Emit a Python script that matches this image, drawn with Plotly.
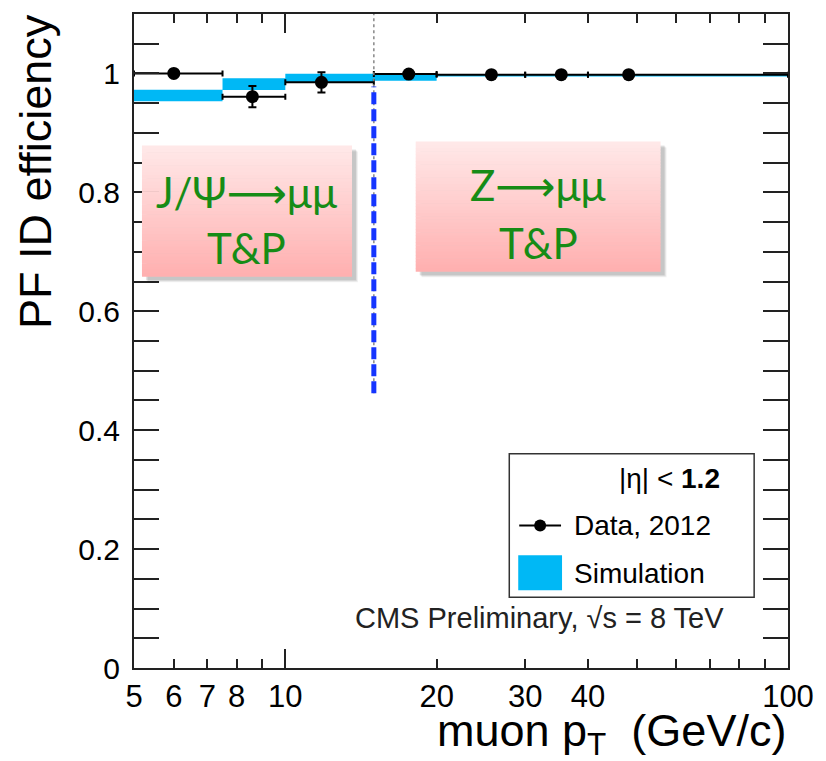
import plotly.graph_objects as go

# ---------------- data ----------------
bin_lo = [5, 7.5, 10, 15, 20, 30, 40]
bin_hi = [7.5, 10, 15, 20, 30, 40, 100]
data_pt = [6.0, 8.6, 11.8, 17.6, 25.7, 35.4, 48.2]
data_eff = [1.0, 0.961, 0.985, 0.999, 0.998, 0.998, 0.998]
data_err = [0.003, 0.018, 0.017, 0.003, 0.002, 0.002, 0.002]
sim_eff = [0.963, 0.982, 0.9925, 0.9937, 0.9965, 0.9965, 0.9963]
sim_err = [0.0096, 0.0098, 0.007, 0.006, 0.0018, 0.0017, 0.0015]

x_ticks = [5, 6, 7, 8, 10, 20, 30, 40, 100]
x_ticktext = ["5", "6", "7", "8", "10", "20", "30", "40", "100"]
x_minor = [9, 50, 60, 70, 80, 90]
x_long = [10, 100]
y_ticks = [0, 0.2, 0.4, 0.6, 0.8, 1.0]
y_ticktext = ["0", "0.2", "0.4", "0.6", "0.8", "1"]
split_pt = 15
split_dash_y = [0.462, 0.978]
split_dot_y = [0.462, 1.1]

# ---------------- layout geometry ----------------
W, H = 826, 761
L, R, T, B = 134, 791, 12, 668


def px(xp):
    return (xp - L) / (R - L)


def py(yp):
    return (B - yp) / (B - T)


SANS = "Liberation Sans, Arial, Helvetica, sans-serif"
CYAN = "#00b8f5"

fig = go.Figure()

# simulation boxes
sx, sy = [], []
for lo, hi, c, e in zip(bin_lo, bin_hi, sim_eff, sim_err):
    sx += [lo, hi, hi, lo, lo, None]
    sy += [c - e, c - e, c + e, c + e, c - e, None]
fig.add_trace(go.Scatter(x=sx, y=sy, mode="lines", fill="toself",
                         fillcolor=CYAN, line=dict(width=0, color=CYAN),
                         showlegend=False, hoverinfo="skip"))

# data points
fig.add_trace(go.Scatter(
    x=data_pt, y=data_eff, mode="markers",
    marker=dict(color="black", size=13),
    error_x=dict(type="data", symmetric=False,
                 array=[h - x for h, x in zip(bin_hi, data_pt)],
                 arrayminus=[x - l for l, x in zip(bin_lo, data_pt)],
                 color="black", thickness=2, width=3),
    error_y=dict(type="data", array=data_err, color="black",
                 thickness=2, width=4),
    showlegend=False))

shapes = []
# vertical separators
shapes.append(dict(type="line", xref="x", yref="y", x0=split_pt, x1=split_pt,
                   y0=split_dot_y[0], y1=split_dot_y[1],
                   line=dict(color="#888888", width=1.5, dash="dot")))
shapes.append(dict(type="line", xref="x", yref="y", x0=split_pt, x1=split_pt,
                   y0=split_dash_y[0], y1=split_dash_y[1],
                   line=dict(color="#1535ff", width=5, dash="12px,5px")))


# gradient boxes with shadows
def grad_box(x0p, x1p, y0p, y1p):
    for k, a in [(6, 0.06), (5, 0.08), (4, 0.10)]:
        shapes.append(dict(type="rect", xref="paper", yref="paper",
                           x0=px(x0p + k), x1=px(x1p + k),
                           y0=py(y1p + k), y1=py(y0p + k),
                           line=dict(width=0), fillcolor=f"rgba(0,0,0,{a})"))
    n = 40
    top = (255, 232, 232)
    bot = (255, 176, 176)
    for i in range(n):
        t = i / (n - 1)
        col = tuple(int(round(top[j] + (bot[j] - top[j]) * t)) for j in range(3))
        ya = y0p + (y1p - y0p) * i / n
        yb = y0p + (y1p - y0p) * (i + 1) / n
        shapes.append(dict(type="rect", xref="paper", yref="paper",
                           x0=px(x0p), x1=px(x1p), y0=py(yb + 0.5), y1=py(ya),
                           line=dict(width=0), fillcolor=f"rgb{col}"))


grad_box(142, 353, 144, 275)
grad_box(417, 663, 140, 270)

# legend box
shapes.append(dict(type="rect", xref="paper", yref="paper",
                   x0=px(511), x1=px(757), y0=py(597), y1=py(453),
                   line=dict(color="#333333", width=1.5), fillcolor="white"))
shapes.append(dict(type="line", xref="paper", yref="paper",
                   x0=px(521), x1=px(563), y0=py(525), y1=py(525),
                   line=dict(color="black", width=2)))
shapes.append(dict(type="circle", xref="paper", yref="paper",
                   xsizemode="pixel", ysizemode="pixel",
                   xanchor=px(542), yanchor=py(525),
                   x0=-6, x1=6, y0=-6, y1=6,
                   line=dict(color="black", width=0), fillcolor="black"))
shapes.append(dict(type="rect", xref="paper", yref="paper",
                   x0=px(520), x1=px(564), y0=py(590), y1=py(555),
                   line=dict(width=0), fillcolor=CYAN))

GREEN = "#168c16"
BOXFONT = "Lato, Noto Sans, DejaVu Sans, sans-serif"


def ann(text, xp, yp, size, family=SANS, color="black", xanchor="center",
        yanchor="middle", **kw):
    return dict(text=text, x=px(xp), y=py(yp), xref="paper", yref="paper",
                xanchor=xanchor, yanchor=yanchor, showarrow=False,
                font=dict(family=family, size=size, color=color), **kw)


annotations = [
    ann("J/Ψ⟶μμ", 247, 191, 42, BOXFONT, GREEN),
    ann("T&amp;P", 247, 247, 42, BOXFONT, GREEN),
    ann("Z⟶μμ", 540, 184, 42, BOXFONT, GREEN),
    ann("T&amp;P", 540, 242, 42, BOXFONT, GREEN),
    ann("|η| &lt; <b>1.2</b>", 672, 478, 28),
    ann("Data, 2012", 574, 525, 28, xanchor="left"),
    ann("Simulation", 574, 573, 28, xanchor="left"),
    ann("CMS Preliminary, √s = 8 TeV", 354, 618, 29, color="#222222",
        xanchor="left"),
    ann("PF ID efficiency", 35, 10, 45, yanchor="top", textangle=-90),
    ann("muon p<sub>T</sub>\u00a0\u00a0(GeV/c)", 791, 734, 45,
        xanchor="right"),
]

AX = "#222222"
fig.update_layout(
    width=W, height=H,
    margin=dict(l=L, r=W - R, t=T, b=H - B, pad=0),
    paper_bgcolor="white", plot_bgcolor="white",
    showlegend=False,
    shapes=shapes, annotations=annotations,
    xaxis=dict(type="log", range=[0.69897, 2.0], tickvals=x_ticks,
               ticktext=x_ticktext, ticks="inside", ticklen=9, tickwidth=1.5,
               tickcolor=AX, showline=True, linecolor=AX, linewidth=2,
               mirror="allticks", showgrid=False, zeroline=False,
               tickfont=dict(family=SANS, size=31, color="black"),
               ticklabelstandoff=0,
               minor=dict(tickvals=x_minor, ticks="inside", ticklen=9,
                          tickwidth=1.5, tickcolor=AX, showgrid=False)),
    xaxis2=dict(type="log", range=[0.69897, 2.0], overlaying="x",
                anchor="y", side="bottom", tickvals=x_long, ticks="inside",
                ticklen=19, tickwidth=1.5, tickcolor=AX,
                showticklabels=False, showline=True, linecolor=AX,
                linewidth=2, mirror="allticks", showgrid=False,
                zeroline=False),
    yaxis=dict(range=[0, 1.1], tickvals=y_ticks, ticktext=y_ticktext,
               ticks="inside", ticklen=25, tickwidth=1.5, tickcolor=AX,
               showline=True, linecolor=AX, linewidth=2, mirror="allticks",
               showgrid=False, zeroline=False,
               tickfont=dict(family=SANS, size=30, color="black"),
               ticklabelstandoff=6,
               minor=dict(dtick=0.05, ticks="inside", ticklen=11,
                          tickwidth=1.5, tickcolor=AX, showgrid=False)),
)

# dummy trace to instantiate xaxis2
fig.add_trace(go.Scatter(x=[10], y=[None], xaxis="x2", yaxis="y",
                         mode="markers", showlegend=False, hoverinfo="skip"))

fig.write_html("out.html")
